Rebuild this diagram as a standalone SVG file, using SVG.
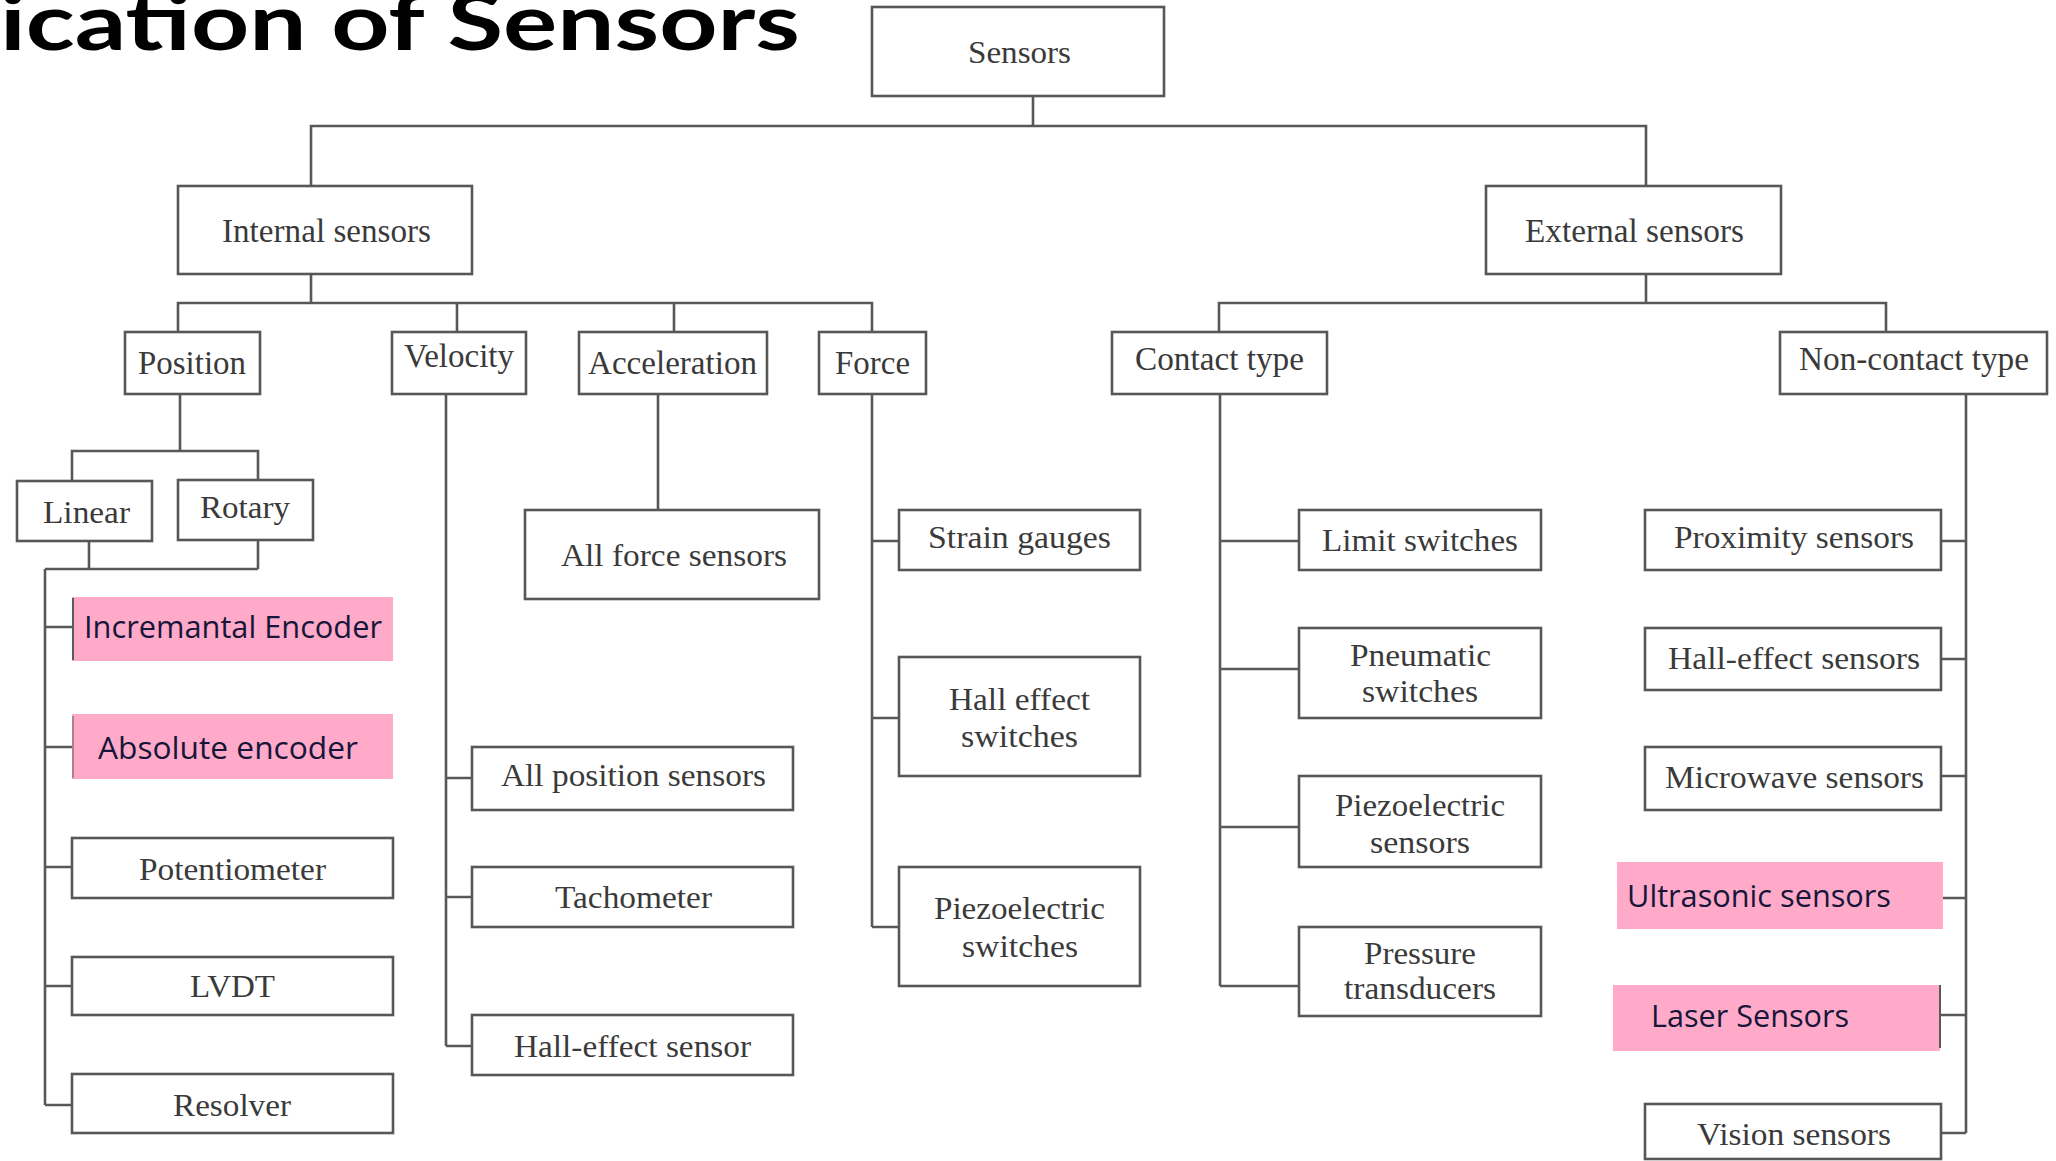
<svg xmlns="http://www.w3.org/2000/svg" width="2056" height="1161" viewBox="0 0 2056 1161">
  <style>
    .box { fill: #ffffff; stroke: #575757; stroke-width: 2.6; }
    .hl { fill: #ffaac8; stroke: none; }
    .edge { stroke: #5a5a5a; stroke-width: 2; fill: none; }
    .lbl { font-family: "Liberation Serif", "Times New Roman", serif; font-size: 31px; fill: #3a3a3a; }
    .top { font-size: 33px; }
    .hlt { font-family: "Open Sans", "Noto Sans", sans-serif; font-size: 31px; fill: #16163a; }
    .title { font-family: "Lato", "Noto Sans", sans-serif; font-weight: 700; font-size: 78px; fill: #000000; }
    #connectors path { fill: none; stroke: #585858; stroke-width: 2.6; }
  </style>

  <rect x="0" y="0" width="2056" height="1161" fill="#ffffff"/>

  <!-- slide heading, partly off the left edge -->
  <text class="title" x="0" y="50" textLength="800" lengthAdjust="spacingAndGlyphs">ication of Sensors</text>

  <!-- tree lines -->
  <g id="connectors">
    <path d="M1033 96 V126"/>
    <path d="M311 186 V126 H1646 V186"/>
    <path d="M311 274 V303"/>
    <path d="M178 332 V303 H872 V332 M457 303 V332 M674 303 V332"/>
    <path d="M1646 274 V303"/>
    <path d="M1219 332 V303 H1886 V332"/>
    <!-- position branch -->
    <path d="M180 393 V451"/>
    <path d="M72 481 V451 H258 V481"/>
    <path d="M89 541 V569 M258 541 V569 M45 569 H258"/>
    <path d="M45 569 V1105 M45 627 H72 M45 747 H72 M45 867 H72 M45 986 H72 M45 1105 H72"/>
    <!-- velocity branch -->
    <path d="M446 393 V1046 M446 778 H472 M446 897 H472 M446 1046 H472"/>
    <!-- acceleration branch -->
    <path d="M658 393 V510"/>
    <!-- force branch -->
    <path d="M872 393 V927 M872 541 H899 M872 718 H899 M872 927 H899"/>
    <!-- contact branch -->
    <path d="M1220 393 V986 M1220 541 H1299 M1220 669 H1299 M1220 827 H1299 M1220 986 H1299"/>
    <!-- non-contact branch -->
    <path d="M1966 393 V1133 M1941 541 H1966 M1941 659 H1966 M1941 776 H1966 M1941 898 H1966 M1941 1015 H1966 M1941 1133 H1966"/>
  </g>

  <g id="sensors">
    <rect class="box" x="872" y="7" width="292" height="89"/>
    <text class="lbl" x="968" y="63" textLength="103" lengthAdjust="spacingAndGlyphs">Sensors</text>
  </g>
  <g id="internal">
    <rect class="box" x="178" y="186" width="294" height="88"/>
    <text class="lbl top" x="222" y="242" textLength="209" lengthAdjust="spacingAndGlyphs">Internal sensors</text>
  </g>
  <g id="external">
    <rect class="box" x="1486" y="186" width="295" height="88"/>
    <text class="lbl top" x="1525" y="242" textLength="219" lengthAdjust="spacingAndGlyphs">External sensors</text>
  </g>

  <g id="position">
    <rect class="box" x="125" y="332" width="135" height="62"/>
    <text class="lbl top" x="138" y="374" textLength="108" lengthAdjust="spacingAndGlyphs">Position</text>
  </g>
  <g id="velocity">
    <rect class="box" x="392" y="332" width="134" height="62"/>
    <text class="lbl top" x="404" y="367" textLength="110" lengthAdjust="spacingAndGlyphs">Velocity</text>
  </g>
  <g id="acceleration">
    <rect class="box" x="579" y="332" width="188" height="62"/>
    <text class="lbl top" x="588" y="374" textLength="169" lengthAdjust="spacingAndGlyphs">Acceleration</text>
  </g>
  <g id="force">
    <rect class="box" x="819" y="332" width="107" height="62"/>
    <text class="lbl top" x="835" y="374" textLength="75" lengthAdjust="spacingAndGlyphs">Force</text>
  </g>
  <g id="contact">
    <rect class="box" x="1112" y="332" width="215" height="62"/>
    <text class="lbl top" x="1135" y="370" textLength="169" lengthAdjust="spacingAndGlyphs">Contact type</text>
  </g>
  <g id="noncontact">
    <rect class="box" x="1780" y="332" width="267" height="62"/>
    <text class="lbl top" x="1799" y="370" textLength="230" lengthAdjust="spacingAndGlyphs">Non-contact type</text>
  </g>

  <g id="linear">
    <rect class="box" x="17" y="481" width="135" height="60"/>
    <text class="lbl" x="43" y="523" textLength="87" lengthAdjust="spacingAndGlyphs">Linear</text>
  </g>
  <g id="rotary">
    <rect class="box" x="178" y="480" width="135" height="60"/>
    <text class="lbl" x="200" y="518" textLength="90" lengthAdjust="spacingAndGlyphs">Rotary</text>
  </g>

  <g id="incremental-encoder">
    <rect class="hl" x="72" y="597" width="321" height="64"/>
    <path class="edge" d="M73 598 V660"/>
    <text class="hlt" x="84" y="638" textLength="298" lengthAdjust="spacingAndGlyphs">Incremantal Encoder</text>
  </g>
  <g id="absolute-encoder">
    <rect class="hl" x="72" y="714" width="321" height="65"/>
    <path class="edge" d="M73 716 V778" stroke-opacity="0.5"/>
    <text class="hlt" x="98" y="759" textLength="260" lengthAdjust="spacingAndGlyphs">Absolute encoder</text>
  </g>
  <g id="potentiometer">
    <rect class="box" x="72" y="838" width="321" height="60"/>
    <text class="lbl" x="139" y="880" textLength="187" lengthAdjust="spacingAndGlyphs">Potentiometer</text>
  </g>
  <g id="lvdt">
    <rect class="box" x="72" y="957" width="321" height="58"/>
    <text class="lbl" x="190" y="997" textLength="85" lengthAdjust="spacingAndGlyphs">LVDT</text>
  </g>
  <g id="resolver">
    <rect class="box" x="72" y="1074" width="321" height="59"/>
    <text class="lbl" x="173" y="1116" textLength="118" lengthAdjust="spacingAndGlyphs">Resolver</text>
  </g>

  <g id="all-force-sensors">
    <rect class="box" x="525" y="510" width="294" height="89"/>
    <text class="lbl" x="561" y="566" textLength="226" lengthAdjust="spacingAndGlyphs">All force sensors</text>
  </g>

  <g id="all-position-sensors">
    <rect class="box" x="472" y="747" width="321" height="63"/>
    <text class="lbl" x="501" y="786" textLength="265" lengthAdjust="spacingAndGlyphs">All position sensors</text>
  </g>
  <g id="tachometer">
    <rect class="box" x="472" y="867" width="321" height="60"/>
    <text class="lbl" x="555" y="908" textLength="157" lengthAdjust="spacingAndGlyphs">Tachometer</text>
  </g>
  <g id="hall-effect-sensor">
    <rect class="box" x="472" y="1015" width="321" height="60"/>
    <text class="lbl" x="514" y="1057" textLength="237" lengthAdjust="spacingAndGlyphs">Hall-effect sensor</text>
  </g>

  <g id="strain-gauges">
    <rect class="box" x="899" y="510" width="241" height="60"/>
    <text class="lbl" x="928" y="548" textLength="183" lengthAdjust="spacingAndGlyphs">Strain gauges</text>
  </g>
  <g id="hall-effect-switches">
    <rect class="box" x="899" y="657" width="241" height="119"/>
    <text class="lbl" x="949" y="710" textLength="141" lengthAdjust="spacingAndGlyphs">Hall effect</text>
    <text class="lbl" x="961" y="747" textLength="117" lengthAdjust="spacingAndGlyphs">switches</text>
  </g>
  <g id="piezoelectric-switches">
    <rect class="box" x="899" y="867" width="241" height="119"/>
    <text class="lbl" x="934" y="919" textLength="171" lengthAdjust="spacingAndGlyphs">Piezoelectric</text>
    <text class="lbl" x="962" y="957" textLength="116" lengthAdjust="spacingAndGlyphs">switches</text>
  </g>

  <g id="limit-switches">
    <rect class="box" x="1299" y="510" width="242" height="60"/>
    <text class="lbl" x="1322" y="551" textLength="196" lengthAdjust="spacingAndGlyphs">Limit switches</text>
  </g>
  <g id="pneumatic-switches">
    <rect class="box" x="1299" y="628" width="242" height="90"/>
    <text class="lbl" x="1350" y="666" textLength="141" lengthAdjust="spacingAndGlyphs">Pneumatic</text>
    <text class="lbl" x="1362" y="702" textLength="116" lengthAdjust="spacingAndGlyphs">switches</text>
  </g>
  <g id="piezoelectric-sensors">
    <rect class="box" x="1299" y="776" width="242" height="91"/>
    <text class="lbl" x="1335" y="816" textLength="170" lengthAdjust="spacingAndGlyphs">Piezoelectric</text>
    <text class="lbl" x="1370" y="853" textLength="100" lengthAdjust="spacingAndGlyphs">sensors</text>
  </g>
  <g id="pressure-transducers">
    <rect class="box" x="1299" y="927" width="242" height="89"/>
    <text class="lbl" x="1364" y="964" textLength="112" lengthAdjust="spacingAndGlyphs">Pressure</text>
    <text class="lbl" x="1344" y="999" textLength="152" lengthAdjust="spacingAndGlyphs">transducers</text>
  </g>

  <g id="proximity-sensors">
    <rect class="box" x="1645" y="510" width="296" height="60"/>
    <text class="lbl" x="1674" y="548" textLength="240" lengthAdjust="spacingAndGlyphs">Proximity sensors</text>
  </g>
  <g id="hall-effect-sensors">
    <rect class="box" x="1645" y="628" width="296" height="62"/>
    <text class="lbl" x="1668" y="669" textLength="252" lengthAdjust="spacingAndGlyphs">Hall-effect sensors</text>
  </g>
  <g id="microwave-sensors">
    <rect class="box" x="1645" y="747" width="296" height="63"/>
    <text class="lbl" x="1665" y="788" textLength="259" lengthAdjust="spacingAndGlyphs">Microwave sensors</text>
  </g>
  <g id="ultrasonic-sensors">
    <rect class="hl" x="1617" y="862" width="326" height="67"/>
    <text class="hlt" x="1627" y="907" textLength="264" lengthAdjust="spacingAndGlyphs">Ultrasonic sensors</text>
  </g>
  <g id="laser-sensors">
    <rect class="hl" x="1613" y="985" width="327" height="66"/>
    <path class="edge" d="M1940 985 V1048"/>
    <text class="hlt" x="1651" y="1027" textLength="198" lengthAdjust="spacingAndGlyphs">Laser Sensors</text>
  </g>
  <g id="vision-sensors">
    <rect class="box" x="1645" y="1104" width="296" height="55"/>
    <text class="lbl" x="1697" y="1145" textLength="194" lengthAdjust="spacingAndGlyphs">Vision sensors</text>
  </g>
</svg>
